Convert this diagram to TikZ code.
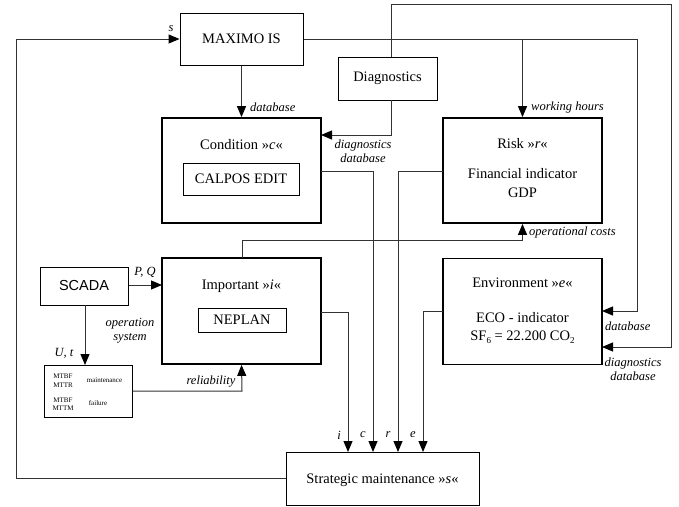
\documentclass[tikz,border=0pt]{standalone}
\usepackage{fontspec}
\setmainfont{Liberation Serif}
\newfontfamily\arialfont{Liberation Sans}
\usetikzlibrary{arrows.meta}
\begin{document}
\begin{tikzpicture}[x=1pt,y=-1pt,
  box/.style={draw=black,line width=1pt,inner sep=0pt,fill=white},
  bigbox/.style={draw=black,line width=1.8pt,inner sep=0pt},
  conn/.style={draw=black!80,line width=1pt},
  arr/.style={conn,-{Triangle[length=11pt,width=9pt,color=black]}},
  lbl/.style={font=\fontsize{12.5}{14}\selectfont\itshape,inner sep=0pt},
  txt/.style={font=\fontsize{14.5}{16}\selectfont,inner sep=0pt},
  small/.style={font=\fontsize{7}{8.5}\selectfont,inner sep=0pt,align=center}]
\useasboundingbox (0,0) rectangle (679,506);
% boxes
\node[box,minimum width=123pt,minimum height=52pt] (maximo) at (241.5,39) {};
\node[txt] (maximot) at (241.5,39) {MAXIMO IS};
\node[bigbox,minimum width=159pt,minimum height=105pt] (cond) at (241.5,170.5) {};
\node[txt] (condt) at (241.5,145) {Condition »\textit{c}«};
\node[box,minimum width=116pt,minimum height=32pt] (calpos) at (241,179) {};
\node[txt] (calpost) at (241,179) {CALPOS EDIT};
\node[box,minimum width=99pt,minimum height=43pt] (diag) at (387.5,78.5) {};
\node[txt] (diagt) at (387.5,78.5) {Diagnostics};
\node[bigbox,minimum width=159pt,minimum height=105pt] (risk) at (522.5,170.5) {};
\node[txt] (riskt1) at (522.5,144) {Risk »\textit{r}«};
\node[txt] (riskt2) at (522.5,174) {Financial indicator};
\node[txt] (riskt3) at (522.5,193) {GDP};
\node[box,minimum width=88pt,minimum height=38pt] (scada) at (84,286) {};
\node[font=\arialfont\fontsize{14.5}{16}\selectfont,inner sep=0pt] (scadat) at (84,286) {SCADA};
\node[bigbox,minimum width=159pt,minimum height=106pt] (imp) at (241.5,311) {};
\node[txt] (impt) at (241.5,286) {Important »\textit{i}«};
\node[box,minimum width=88pt,minimum height=24pt] (neplan) at (242,320) {};
\node[txt] (neplant) at (242,320) {NEPLAN};
\node[box,minimum width=88pt,minimum height=52pt] (mtbf) at (88,391) {};
\node[small] (m1) at (63,380.5) {MTBF\\MTTR};
\node[small] (m2) at (104.5,380) {maintenance};
\node[small] (m3) at (63,404) {MTBF\\MTTM};
\node[small] (m4) at (98,403) {failure};
\node[bigbox,minimum width=159pt,minimum height=106pt] (env) at (522.5,311.5) {};
\node[txt] (envt1) at (522.5,283) {Environment »\textit{e}«};
\node[txt] (envt2) at (522.5,318) {ECO - indicator};
\node[txt] (envt3) at (522.5,337) {SF\raisebox{-0.5ex}{\fontsize{9}{10}\selectfont 6} = 22.200 CO\raisebox{-0.5ex}{\fontsize{9}{10}\selectfont 2}};
\node[box,minimum width=193pt,minimum height=53pt] (strat) at (382.5,478.5) {};
\node[txt] (stratt) at (382.5,480) {Strategic maintenance »\textit{s}«};
% coordinates
\coordinate (cL) at (16,39);
\coordinate (cM1) at (637,39);
\coordinate (cM2) at (637,311);
\coordinate (cEdb) at (602,311);
\coordinate (cWH) at (522.5,39);
\coordinate (cD1) at (391,56.5);
\coordinate (cD2) at (391,4);
\coordinate (cD3) at (671,4);
\coordinate (cD4) at (671,347);
\coordinate (cEdd) at (602,347);
\coordinate (cD5) at (391,100);
\coordinate (cD6) at (391,135);
\coordinate (cCd) at (321,135);
\coordinate (cC1) at (321,171);
\coordinate (cC2) at (373,171);
\coordinate (cC3) at (373,452);
\coordinate (cR1) at (443,171);
\coordinate (cR2) at (398,171);
\coordinate (cR3) at (398,452);
\coordinate (cI1) at (321,312);
\coordinate (cI2) at (348,312);
\coordinate (cI3) at (348,452);
\coordinate (cE1) at (443,311);
\coordinate (cE2) at (423,311);
\coordinate (cE3) at (423,452);
\coordinate (cPQ) at (162,285);
\coordinate (cS1) at (85,305);
\coordinate (cS2) at (85,365);
\coordinate (cRel1) at (242,391);
\coordinate (cOp1) at (242,258);
\coordinate (cOp2) at (242,240);
\coordinate (cOp3) at (522.5,240);
% connectors
\draw[arr] (strat.west) -| (cL) -- (maximo.west);
\draw[arr] (maximo.south) -- (cond.north);
\draw[arr] (maximo.east) -- (cM1) -- (cM2) -- (cEdb);
\draw[arr] (cWH) -- (risk.north);
\draw[arr] (cD1) -- (cD2) -- (cD3) -- (cD4) -- (cEdd);
\draw[arr] (cD5) -- (cD6) -- (cCd);
\draw[arr] (cC1) -- (cC2) -- (cC3);
\draw[arr] (cR1) -- (cR2) -- (cR3);
\draw[arr] (cI1) -- (cI2) -- (cI3);
\draw[arr] (cE1) -- (cE2) -- (cE3);
\draw[arr] (scada.east |- cPQ) -- (cPQ);
\draw[arr] (cS1) -- (cS2);
\draw[arr] (mtbf.east |- cRel1) -- (cRel1) -- (imp.south);
\draw[arr] (cOp1) -- (cOp2) -- (cOp3) -- (risk.south);
% labels
\node[lbl] (ls) at (171,29) {s};
\node[lbl,anchor=west] (ldb) at (250,107) {database};
\node[lbl,align=center] (ldd) at (363,151.5) {diagnostics\\database};
\node[lbl,anchor=west] (lwh) at (531,107) {working hours};
\node[lbl,anchor=west] (lop) at (529,232) {operational costs};
\node[lbl] (lpq) at (145,272) {P, Q};
\node[lbl,align=center] (los) at (130,331) {operation\\system};
\node[lbl] (lut) at (64,353) {U, t};
\node[lbl] (lrel) at (211,382) {reliability};
\node[lbl] (li) at (339,435) {i};
\node[lbl] (lc) at (363,435) {c};
\node[lbl] (lr) at (388,435) {r};
\node[lbl] (le) at (413,435) {e};
\node[lbl,anchor=west] (ledb) at (605,326) {database};
\node[lbl,align=center] (ledd) at (633,369) {diagnostics\\database};
\end{tikzpicture}
\end{document}
